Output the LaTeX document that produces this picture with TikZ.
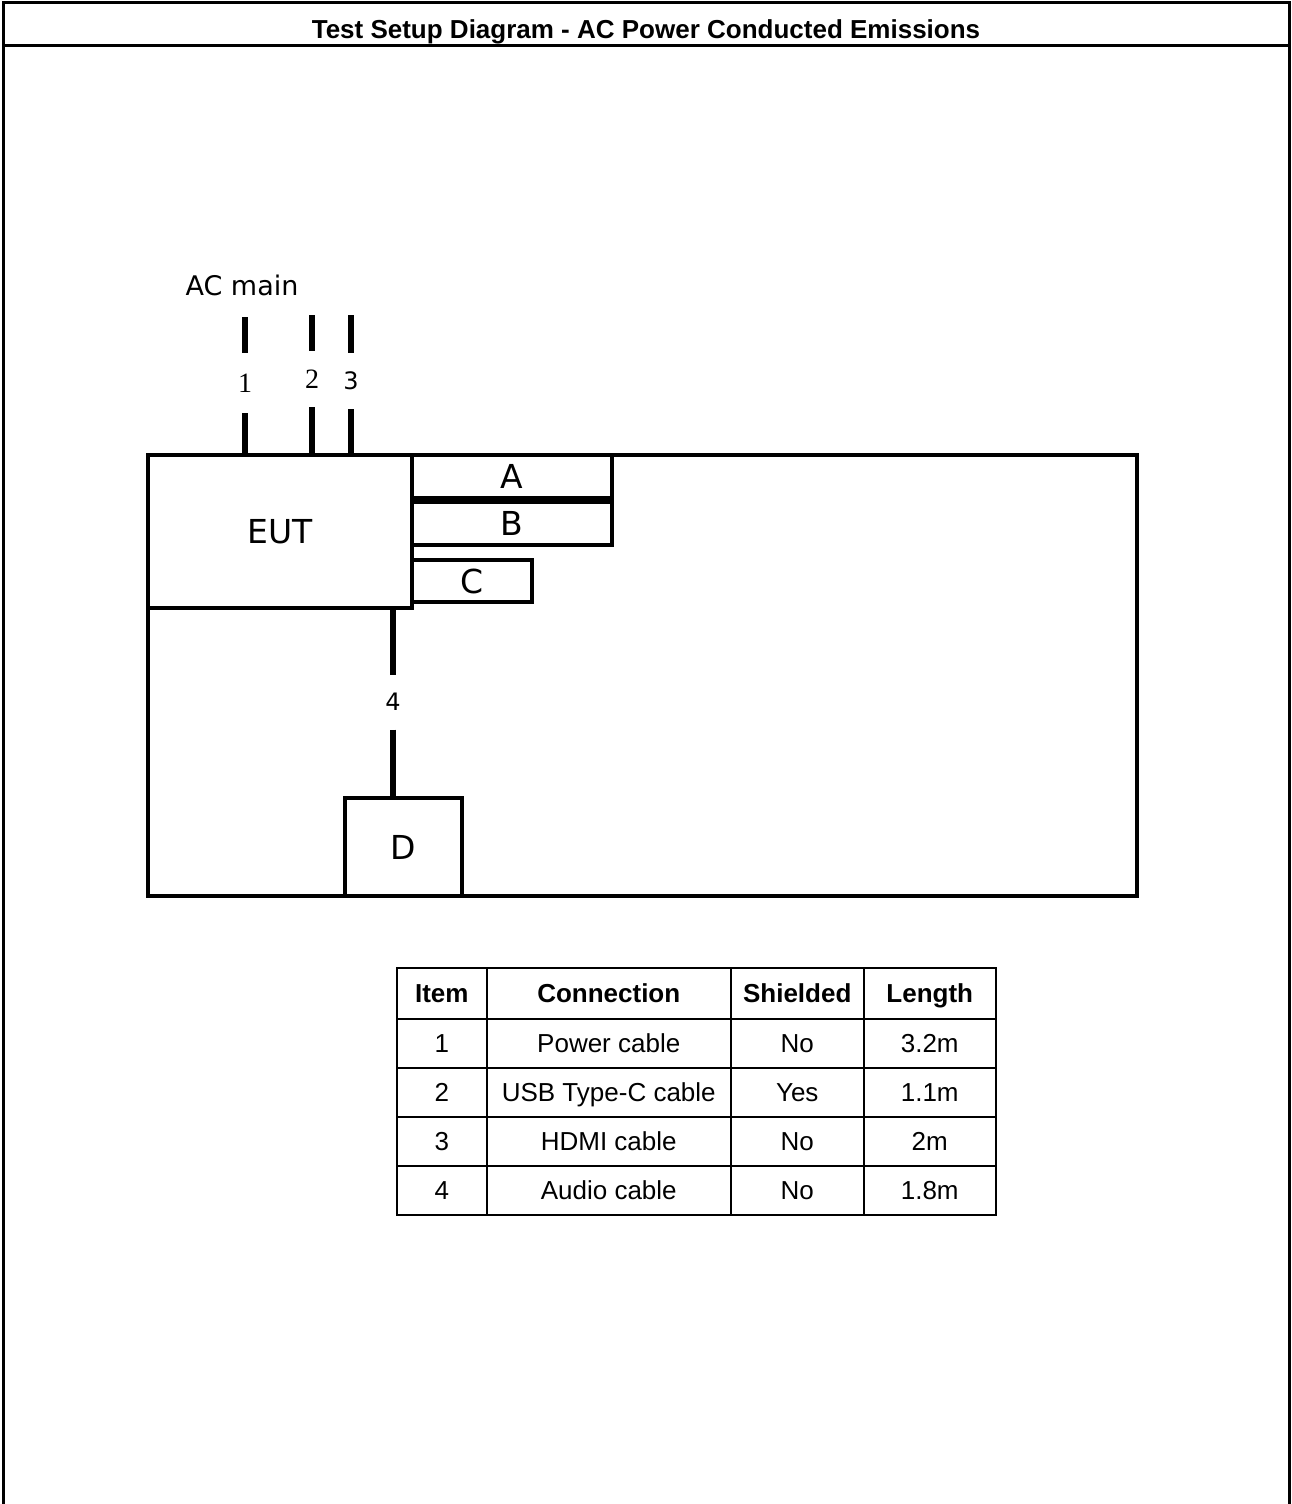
\documentclass[tikz,border=0pt]{standalone}
\usepackage{fontspec}
\setmainfont{Liberation Sans}
\newfontfamily\labfont{DejaVu Sans}
\newfontfamily\numfont{Liberation Serif}
\usepackage{tikz}
\usetikzlibrary{matrix,positioning}

\begin{document}
\begin{tikzpicture}[x=1pt,y=-1pt]
\tikzstyle{unitbox}=[draw,line width=4pt,inner sep=0pt,outer sep=0pt,anchor=north west,font=\labfont\fontsize{33}{36}\selectfont]
\tikzstyle{cable}=[line width=6.5pt]
\tikzstyle{cablenum}=[inner sep=0pt,outer sep=0pt,minimum height=56pt]
\useasboundingbox (0,0) rectangle (1292,1504);
% frame and title
\draw[line width=3pt] (3,1504) -- (3,3) -- (1289,3) -- (1289,1504);
\draw[line width=3pt] (3,46) -- (1289,46);
\node[anchor=base,font=\bfseries\fontsize{26}{30}\selectfont] (title) at (646,39) {Test Setup Diagram - AC Power Conducted Emissions};
% table top and units
\node[unitbox,minimum width=989pt,minimum height=441pt] (bench) at (148,455) {};
\node[unitbox,minimum width=264pt,minimum height=153pt] (eut) at (148,455) {EUT};
\node[unitbox,minimum width=200pt,minimum height=43pt] (a) at (412,455) {A};
\node[unitbox,minimum width=200pt,minimum height=43pt] (b) at (412,502) {B};
\node[unitbox,minimum width=120pt,minimum height=42pt] (c) at (412,560) {C};
\node[unitbox,minimum width=117pt,minimum height=98pt] (d) at (345,798) {D};
% cables
\node[anchor=base,font=\labfont\fontsize{27}{30}\selectfont] (acmain) at (242,295) {AC main};
\coordinate (ac1) at (245,317);
\coordinate (ac2) at (312,315);
\coordinate (ac3) at (351,315);
\node[cablenum,minimum height=60pt,font=\numfont\fontsize{28}{30}\selectfont] (n1) at (245,383) {1};
\node[cablenum,font=\numfont\fontsize{28}{30}\selectfont] (n2) at (312,379) {2};
\node[cablenum,font=\labfont\fontsize{24}{26}\selectfont] (n3) at (351,381) {3};
\node[cablenum,minimum height=55pt,font=\labfont\fontsize{24}{26}\selectfont] (n4) at (393,702) {4};
\draw[cable] (ac1) -- (n1);
\draw[cable] (n1) -- (n1 |- eut.north);
\draw[cable] (ac2) -- (n2);
\draw[cable] (n2) -- (n2 |- eut.north);
\draw[cable] (ac3) -- (n3);
\draw[cable] (n3) -- (n3 |- eut.north);
\draw[cable] (n4 |- eut.south) -- (n4);
\draw[cable] (n4) -- (n4 |- d.north);
% cable list
\matrix (tbl) [matrix of nodes,anchor=north west,inner sep=0pt,outer sep=0pt,column sep=-1.5pt,row sep=-1.5pt,
  nodes={draw,line width=1.5pt,inner sep=0pt,outer sep=0pt,anchor=center,minimum height=49pt,
    text height=18.7pt,text depth=0pt,font=\fontsize{26}{30}\selectfont},
  column 1/.style={nodes={minimum width=90pt}},
  column 2/.style={nodes={minimum width=244pt}},
  column 3/.style={nodes={minimum width=133pt}},
  column 4/.style={nodes={minimum width=132pt}},
  row 1/.style={nodes={minimum height=51pt,font=\bfseries\fontsize{26}{30}\selectfont}}] at (396,967) {
Item & Connection & Shielded & Length \\
1 & Power cable & No & 3.2m \\
2 & USB Type-C cable & Yes & 1.1m \\
3 & HDMI cable & No & 2m \\
4 & Audio cable & No & 1.8m \\
};
\end{tikzpicture}
\end{document}
